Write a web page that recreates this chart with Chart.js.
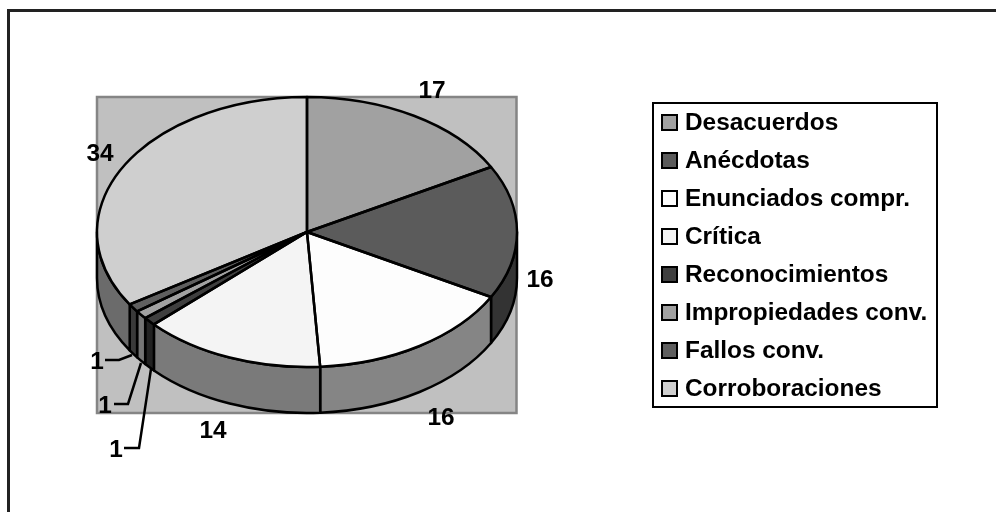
<!DOCTYPE html>
<html lang="es">
<head>
<meta charset="utf-8">
<title>Distribución de enunciados</title>
<style>
  html, body { margin: 0; padding: 0; background: #fff; }
  #wrap { position: relative; width: 996px; height: 512px; }
  canvas { display: block; }
</style>
<script src="https://cdn.jsdelivr.net/npm/chart.js@4"></script>
</head>
<body>
<div id="wrap"><canvas id="pie" width="996" height="512"></canvas></div>
<script>
// Categories, values and slice shades
const categories = ['Desacuerdos', 'Anécdotas', 'Enunciados compr.', 'Crítica',
  'Reconocimientos', 'Impropiedades conv.', 'Fallos conv.', 'Corroboraciones'];
const values = [17, 16, 16, 14, 1, 1, 1, 34];
const topColors = ['#a1a1a1', '#5b5b5b', '#fdfdfd', '#f4f4f4', '#3f3f3f', '#a1a1a1', '#5f5f5f', '#cfcfcf'];
const wallColors = ['#6e6e6e', '#333333', '#858585', '#7a7a7a', '#222222', '#757575', '#3a3a3a', '#6b6b6b'];

// Hand-placed value labels: text anchor, plus an optional leader polyline
const labelAnchors = [
  { x: 432, y: 91 }, { x: 540, y: 280 }, { x: 441, y: 418 }, { x: 213, y: 431 },
  { x: 116, y: 450, leader: [[124, 448], [139, 448], [151, 369]] },
  { x: 105, y: 406, leader: [[114, 404], [128, 404], [141, 363]] },
  { x: 97, y: 362, leader: [[105, 360], [119, 360], [132, 355]] },
  { x: 100, y: 154 }
];

const TILT = 0.643;      // vertical squash of the disc
const DEPTH = 46;        // height of the cylinder wall
const CENTER_Y = 232;
const FONT = 'bold 24.4px "Liberation Sans", Arial, sans-serif';

function arcsOf(chart) {
  return chart.getDatasetMeta(0).data.map(a =>
    a.getProps(['x', 'y', 'startAngle', 'endAngle', 'outerRadius'], true));
}

const frame = {
  id: 'frame',
  beforeDraw(chart) {
    const c = chart.ctx;
    c.save();
    c.fillStyle = '#fff';
    c.fillRect(0, 0, chart.width, chart.height);
    // the chart's border runs along its top and left edges only
    c.strokeStyle = '#222';
    c.lineWidth = 3;
    c.beginPath();
    c.moveTo(chart.width, 10.5);
    c.lineTo(8.5, 10.5);
    c.lineTo(8.5, chart.height);
    c.stroke();
    // plot backdrop
    c.fillStyle = '#c0c0c0';
    c.strokeStyle = '#858585';
    c.lineWidth = 2.5;
    c.fillRect(97, 97, 420, 316);
    c.strokeRect(97, 97, 419.5, 316);
    c.restore();
  }
};

const disc3d = {
  id: 'disc3d',
  beforeDatasetsDraw(chart) {
    const c = chart.ctx;
    const arcs = arcsOf(chart);
    c.save();
    c.lineWidth = 2.5;
    c.strokeStyle = '#000';
    c.lineJoin = 'round';
    arcs.forEach((a, i) => {
      const rx = a.outerRadius, ry = rx * TILT;
      let s = a.startAngle, e = a.endAngle;
      // only the near half of the rim is visible
      const lo = Math.max(s, 0), hi = Math.min(e, Math.PI);
      if (hi <= lo) return;
      c.beginPath();
      c.ellipse(a.x, CENTER_Y, rx, ry, 0, lo, hi);
      c.ellipse(a.x, CENTER_Y + DEPTH, rx, ry, 0, hi, lo, true);
      c.closePath();
      c.fillStyle = wallColors[i];
      c.fill();
      c.stroke();
    });
    c.restore();
    // squash the library's circular slices into the disc's ellipse
    c.save();
    c.translate(0, CENTER_Y);
    c.scale(1, TILT);
    c.translate(0, -arcs[0].y);
  },
  afterDatasetsDraw(chart) {
    const c = chart.ctx;
    c.restore();
    c.save();
    c.lineWidth = 2.5;
    c.strokeStyle = '#000';
    c.lineJoin = 'round';
    arcsOf(chart).forEach(a => {
      const rx = a.outerRadius, ry = rx * TILT;
      c.beginPath();
      c.moveTo(a.x, CENTER_Y);
      c.ellipse(a.x, CENTER_Y, rx, ry, 0, a.startAngle, a.endAngle);
      c.closePath();
      c.stroke();
    });
    c.restore();
  }
};

const valueLabels = {
  id: 'valueLabels',
  afterDraw(chart) {
    const c = chart.ctx;
    c.save();
    c.font = FONT;
    c.fillStyle = '#000';
    c.textAlign = 'center';
    c.textBaseline = 'middle';
    c.strokeStyle = '#000';
    c.lineWidth = 2.5;
    values.forEach((v, i) => {
      const p = labelAnchors[i];
      c.fillText(String(v), p.x, p.y);
      if (p.leader) {
        c.beginPath();
        p.leader.forEach(([x, y], k) => k ? c.lineTo(x, y) : c.moveTo(x, y));
        c.stroke();
      }
    });
    c.restore();
  }
};

const legendBox = {
  id: 'legendBox',
  afterDraw(chart) {
    const c = chart.ctx;
    const x = 653, y = 103, w = 284, h = 304, rowH = 38, firstRow = 122.5;
    c.save();
    c.fillStyle = '#fff';
    c.fillRect(x, y, w, h);
    c.strokeStyle = '#000';
    c.lineWidth = 2;
    c.strokeRect(x, y, w, h);
    c.font = FONT;
    c.textBaseline = 'middle';
    chart.data.labels.forEach((label, i) => {
      const cy = firstRow + i * rowH;
      c.fillStyle = topColors[i];
      c.fillRect(662, cy - 7.5, 15, 15);
      c.strokeRect(662, cy - 7.5, 15, 15);
      c.fillStyle = '#000';
      c.fillText(label, 685, cy + 1);
    });
    c.restore();
  }
};

new Chart(document.getElementById('pie'), {
  type: 'pie',
  data: {
    labels: categories,
    datasets: [{ data: values, backgroundColor: topColors, borderWidth: 0 }]
  },
  options: {
    responsive: false,
    animation: false,
    // padding leaves a 420px square whose circle maps onto the disc
    layout: { padding: { left: 97, right: 479, top: 22, bottom: 70 } },
    plugins: { legend: { display: false }, tooltip: { enabled: false } }
  },
  plugins: [frame, disc3d, valueLabels, legendBox]
});
</script>
</body>
</html>
